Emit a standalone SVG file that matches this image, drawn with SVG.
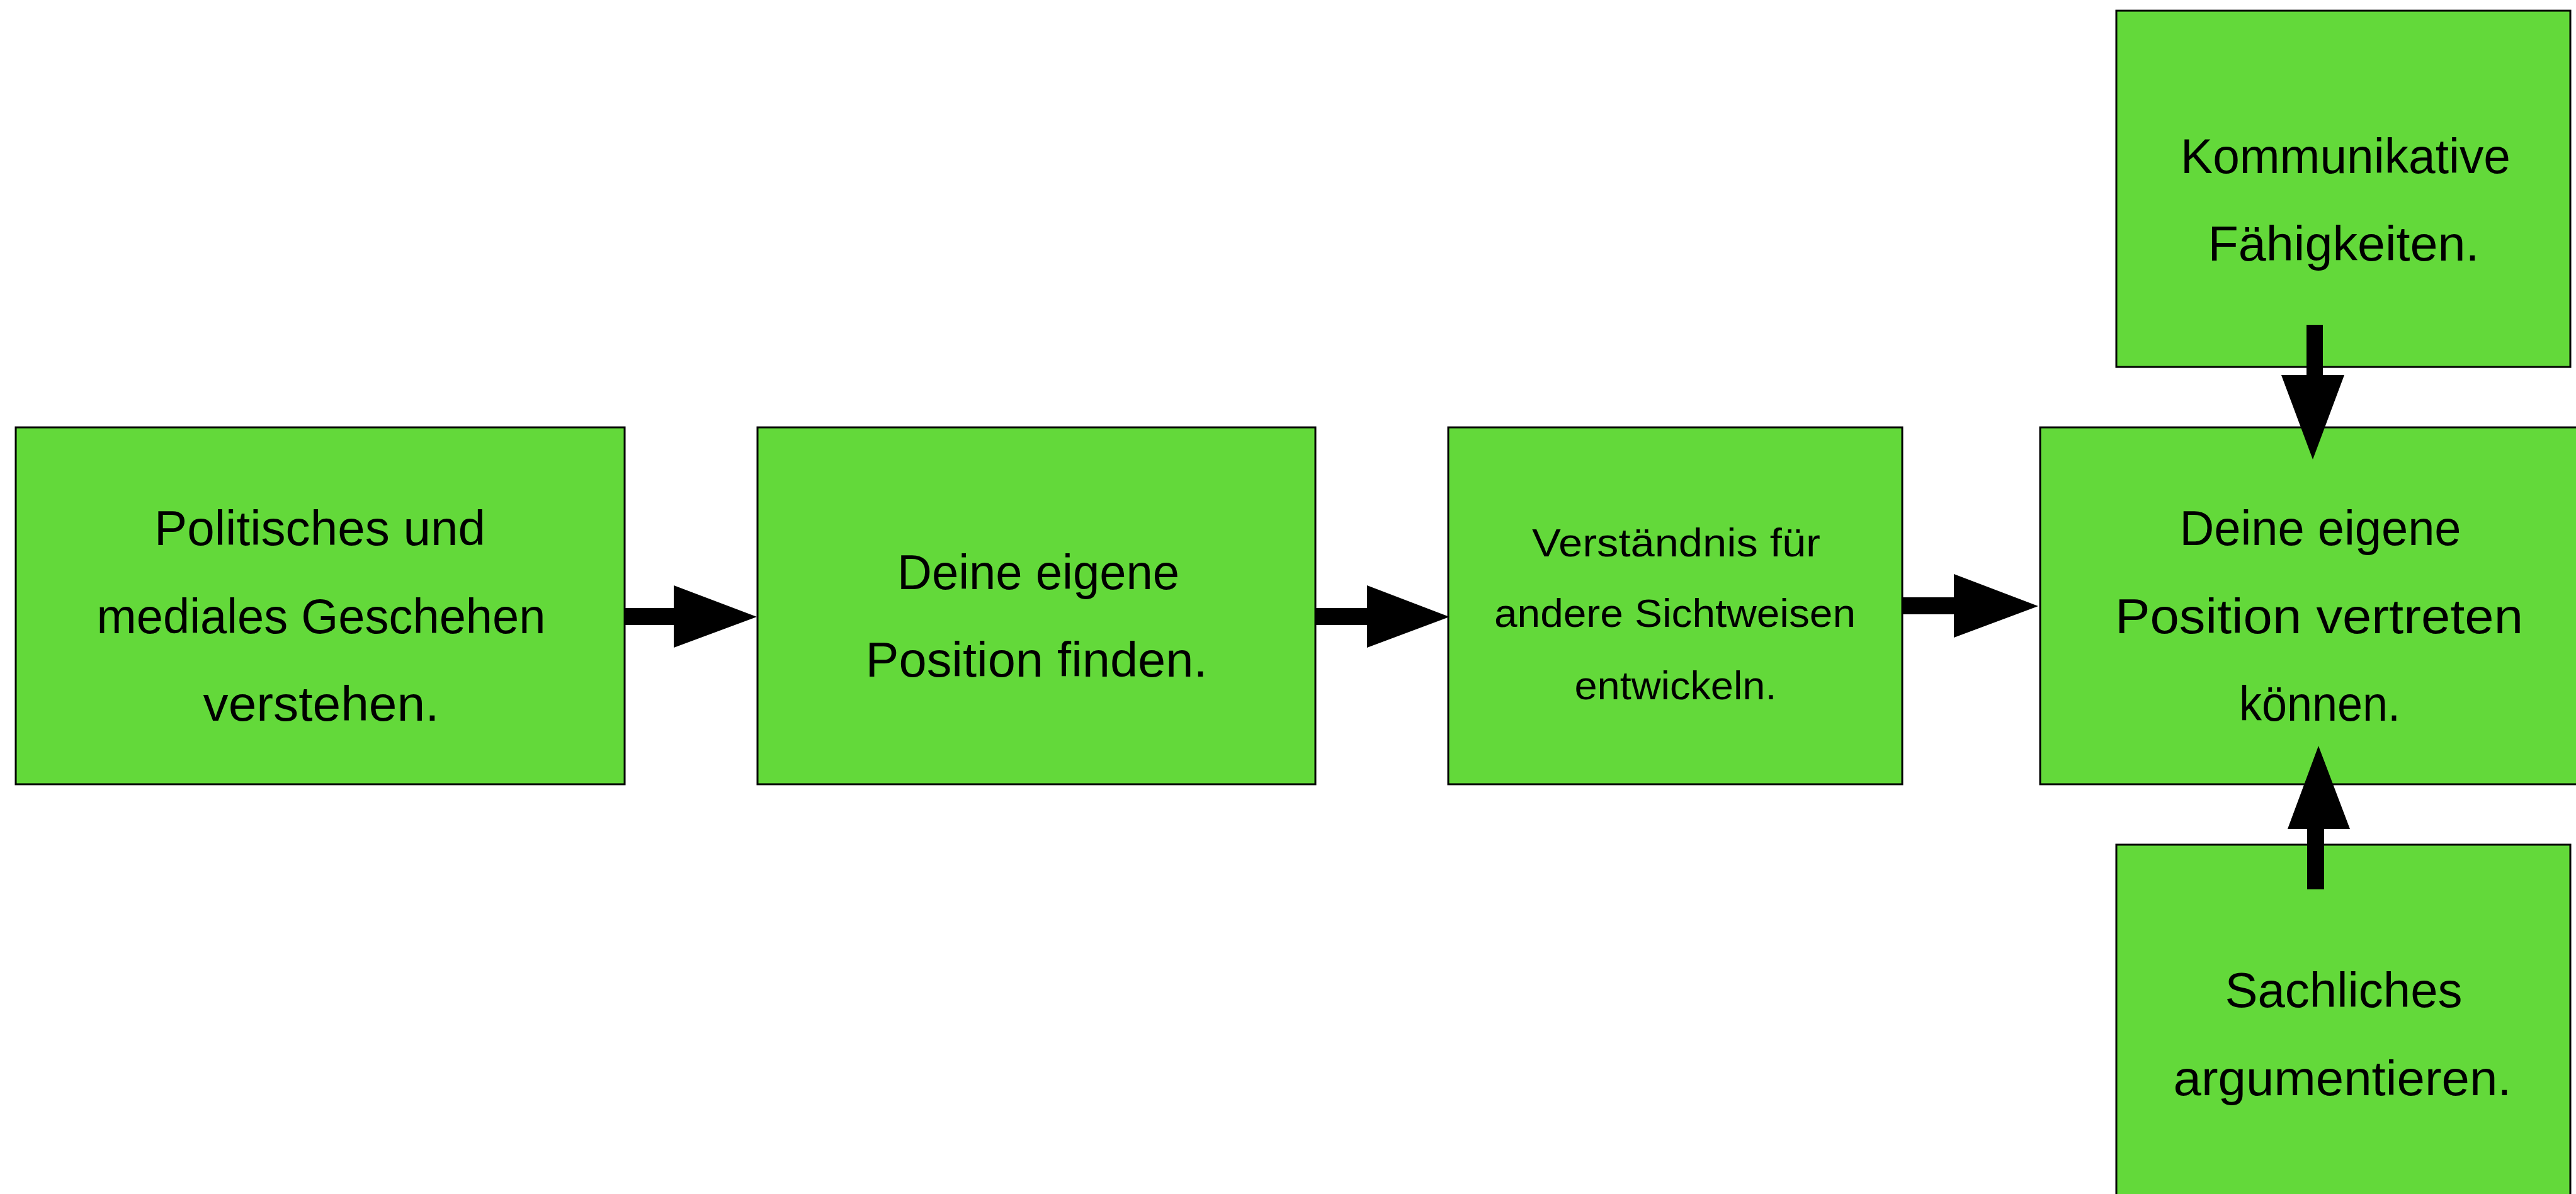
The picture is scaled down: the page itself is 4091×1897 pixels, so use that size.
<svg xmlns="http://www.w3.org/2000/svg" width="4091" height="1897" viewBox="0 0 4091 1897">
<style>
.box{fill:#63d93a;stroke:#000;stroke-width:3}
.t{font-family:"Liberation Sans",Arial,sans-serif;font-size:77px;fill:#000;text-anchor:middle}
.s{font-size:63px}
.arr{fill:#000;stroke:none}
</style>
<rect width="4091" height="1897" fill="#fff"/>
<g id="node1">
<rect class="box" x="25" y="679" width="967" height="567"/>
<text class="t" x="508" y="866" textLength="526" lengthAdjust="spacingAndGlyphs">Politisches und</text>
<text class="t" x="510" y="1006" textLength="713" lengthAdjust="spacingAndGlyphs">mediales Geschehen</text>
<text class="t" x="510" y="1145" textLength="375" lengthAdjust="spacingAndGlyphs">verstehen.</text>
</g>
<g id="node2">
<rect class="box" x="1203" y="679" width="886" height="567"/>
<text class="t" x="1649" y="936" textLength="448" lengthAdjust="spacingAndGlyphs">Deine eigene</text>
<text class="t" x="1646" y="1075" textLength="543" lengthAdjust="spacingAndGlyphs">Position finden.</text>
</g>
<g id="node3">
<rect class="box" x="2300" y="679" width="721" height="567"/>
<text class="t s" x="2662" y="884" textLength="458" lengthAdjust="spacingAndGlyphs">Verständnis für</text>
<text class="t s" x="2660" y="996" textLength="574" lengthAdjust="spacingAndGlyphs">andere Sichtweisen</text>
<text class="t s" x="2661" y="1111" textLength="321" lengthAdjust="spacingAndGlyphs">entwickeln.</text>
</g>
<g id="node4">
<rect class="box" x="3240" y="679" width="890" height="567"/>
<text class="t" x="3685" y="866" textLength="447" lengthAdjust="spacingAndGlyphs">Deine eigene</text>
<text class="t" x="3683" y="1006" textLength="648" lengthAdjust="spacingAndGlyphs">Position vertreten</text>
<text class="t" x="3684" y="1145" textLength="256" lengthAdjust="spacingAndGlyphs">können.</text>
</g>
<g id="node5">
<rect class="box" x="3361" y="17" width="721" height="566"/>
<text class="t" x="3725" y="275" textLength="524" lengthAdjust="spacingAndGlyphs">Kommunikative</text>
<text class="t" x="3722" y="414" textLength="431" lengthAdjust="spacingAndGlyphs">Fähigkeiten.</text>
</g>
<g id="node6">
<rect class="box" x="3361" y="1342" width="721" height="580"/>
<text class="t" x="3722" y="1600" textLength="377" lengthAdjust="spacingAndGlyphs">Sachliches</text>
<text class="t" x="3720" y="1740" textLength="537" lengthAdjust="spacingAndGlyphs">argumentieren.</text>
</g>
<g id="connectors">
<polygon class="arr" points="992,966 1070,966 1070,930 1202,980 1070,1029 1070,993 992,993"/>
<polygon class="arr" points="2090,966 2171,966 2171,930 2302,980 2171,1029 2171,993 2090,993"/>
<polygon class="arr" points="3021,949 3103,949 3103,912 3237,963 3103,1013 3103,976 3021,976"/>
<polygon class="arr" points="3663,516 3689,516 3689,596 3723,596 3673,730 3623,596 3663,596"/>
<polygon class="arr" points="3664,1413 3691,1413 3691,1317 3732,1317 3682,1185 3633,1317 3664,1317"/>
</g>
</svg>
